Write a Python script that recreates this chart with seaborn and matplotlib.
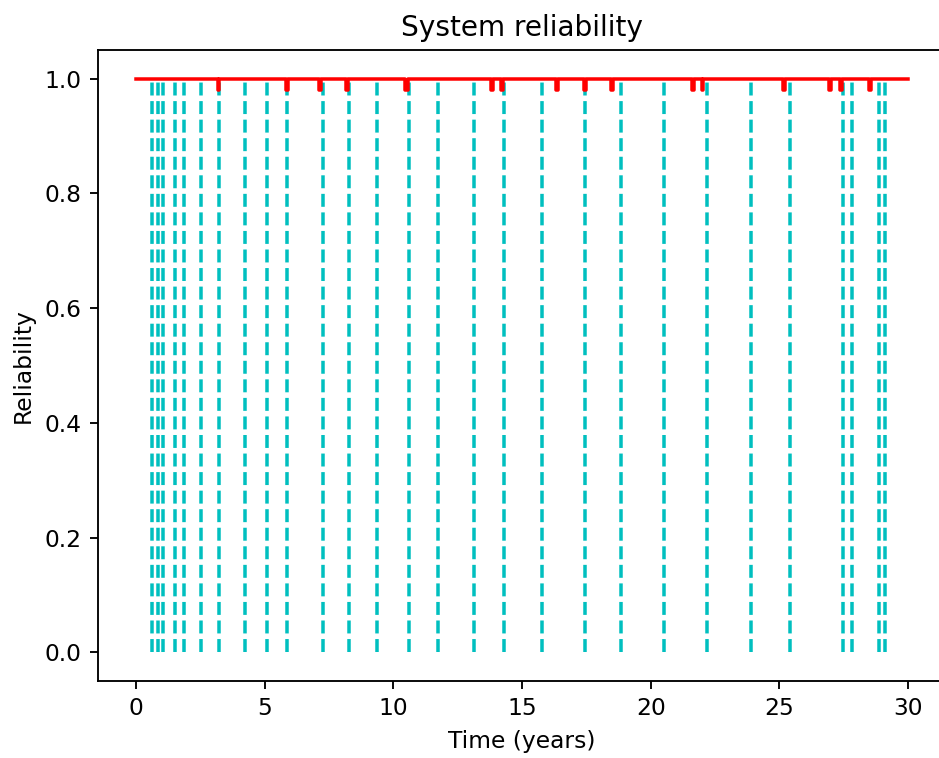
import numpy as np
import seaborn as sns
import matplotlib
matplotlib.use("Agg")
import matplotlib.pyplot as plt

# time horizon (years)
t_start = 0.0
t_end = 30.0

# reliability dips: centre time, duration (years), reliability level during dip
dip_times = [3.20, 5.86, 7.15, 8.19, 10.52, 13.82, 14.21, 16.35, 17.45, 18.49,
             21.64, 22.01, 25.18, 26.97, 27.39, 28.53]
dip_widths = [0.06, 0.06, 0.06, 0.06, 0.11, 0.06, 0.06, 0.06, 0.06, 0.06,
              0.06, 0.06, 0.06, 0.11, 0.06, 0.06]
dip_level = 0.98

# maintenance / event times (cyan dashed lines)
event_times = [0.63, 0.84, 1.04, 1.50, 1.84, 2.50, 3.23, 4.22, 5.09, 5.88,
               7.28, 8.29, 9.36, 10.61, 11.75, 13.14, 14.28, 15.79, 17.45, 18.85,
               20.52, 22.18, 23.90, 25.43, 27.49, 27.83, 28.89, 29.10]

# build the step-shaped reliability curve from the dips
rel_t = [t_start]
rel_r = [1.0]
for c, w in zip(dip_times, dip_widths):
    a, b = c - w / 2, c + w / 2
    rel_t += [a, a, b, b]
    rel_r += [1.0, dip_level, dip_level, 1.0]
rel_t.append(t_end)
rel_r.append(1.0)

dpi = 168
fig = plt.figure(figsize=(939 / dpi, 758 / dpi), dpi=dpi)
ax = fig.add_axes([97.6 / 939, 77 / 758, 849 / 939, 631 / 758])

ax.vlines(event_times, 0, 1, colors='c', linestyles='--', linewidth=1.5, zorder=1)
sns.lineplot(x=rel_t, y=rel_r, estimator=None, sort=False, color='r', linewidth=1.5, ax=ax, zorder=2)

ax.set_title('System reliability')
ax.set_xlabel('Time (years)')
ax.set_ylabel('Reliability')

fig.savefig('out.png', dpi=dpi)
